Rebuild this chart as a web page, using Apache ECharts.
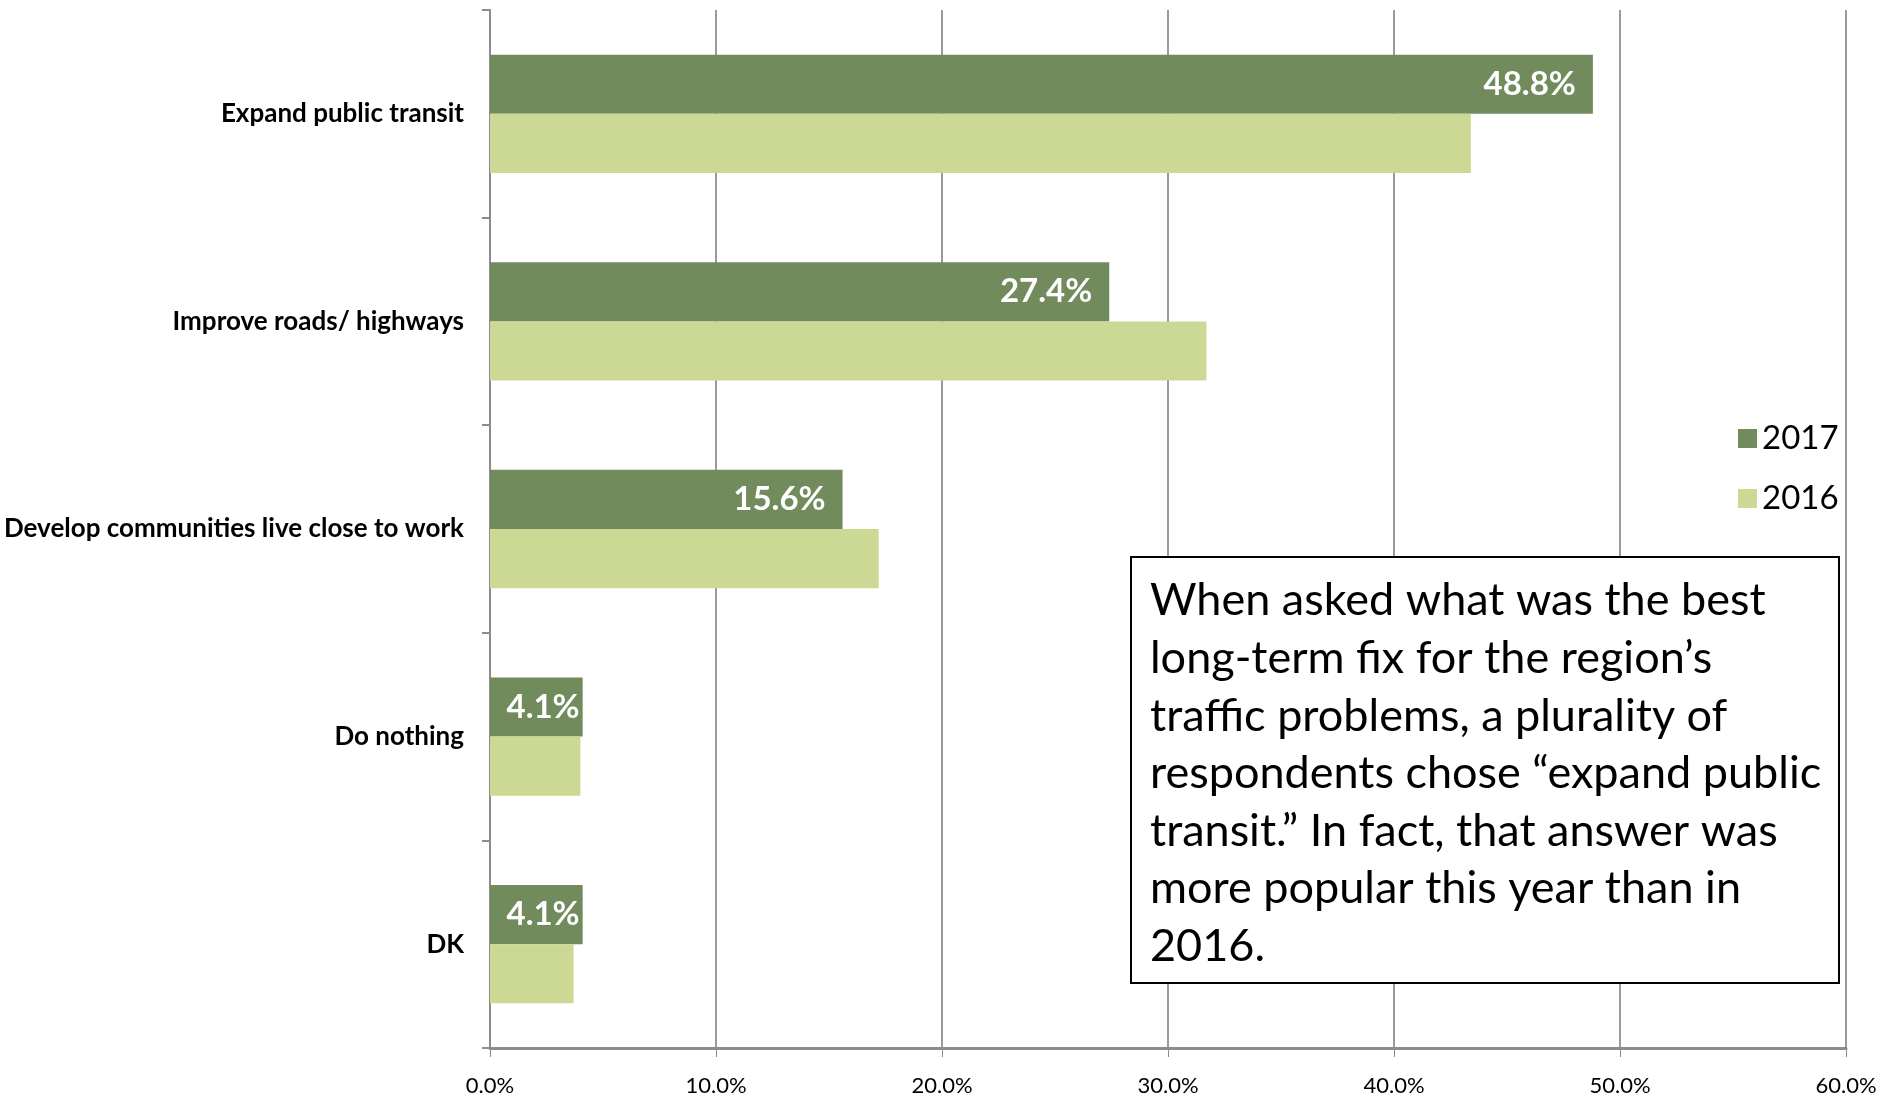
<!DOCTYPE html>
<html><head><meta charset="utf-8">
<script src="https://cdn.jsdelivr.net/npm/echarts@6/dist/echarts.min.js"></script>
<style>html,body{margin:0;padding:0;background:#fff}#c{width:1883px;height:1098px}</style>
</head><body><div id="c"></div>
<script>
const categories = ["Expand public transit","Improve roads/ highways","Develop communities live close to work","Do nothing","DK"];
const values2017 = [48.8, 27.4, 15.6, 4.1, 4.1];
const values2016 = [43.4, 31.7, 17.2, 4.0, 3.7];
const xTicks = [0,10,20,30,40,50,60];
const noteLines = ["When asked what was the best","long-term fix for the region\u2019s","traffic problems, a plurality of","respondents chose \u201cexpand public","transit.\u201d In fact, that answer was","more popular this year than in","2016."];
const FONT = 'Lato, "Open Sans", sans-serif';
const chart = echarts.init(document.getElementById('c'));
const data2017 = values2017.map(v => ({value:v, label:{distance: v < 10 ? 3 : 17}}));
chart.setOption({
  animation:false,
  grid:{left:490,right:37,top:10,bottom:50,containLabel:false},
  legend:{orient:'vertical',left:1733,top:417,itemWidth:19,itemHeight:19,itemGap:27,icon:'rect',
    textStyle:{fontFamily:FONT,fontSize:33,color:'#000'},
    data:['2017','2016']},
  xAxis:{type:'value',min:0,max:60,interval:10,
    axisLine:{show:true,lineStyle:{color:'#8c8c8c',width:3}},
    axisTick:{show:true,length:9,lineStyle:{color:'#8c8c8c'}},
    splitLine:{show:true,lineStyle:{color:'#9a9a9a',width:2}},
    axisLabel:{margin:27,fontFamily:FONT,fontSize:22,color:'#000',formatter:v=>v.toFixed(1)+'%'}},
  yAxis:{type:'category',data:categories,inverse:true,
    axisLine:{show:true,lineStyle:{color:'#8c8c8c',width:2}},
    axisTick:{show:true,length:8,lineStyle:{color:'#8c8c8c',width:2}},
    axisLabel:{margin:26,fontFamily:FONT,fontSize:26,fontWeight:'bold',color:'#000'}},
  series:[
    {name:'2017',type:'bar',data:data2017,barGap:'0%',barCategoryGap:'43%',
     itemStyle:{color:'#718b5d'},
     label:{show:true,position:'insideRight',distance:17,color:'#fff',fontFamily:FONT,fontWeight:'bold',fontSize:33,formatter:p=>p.value.toFixed(1)+'%'}},
    {name:'2016',type:'bar',data:values2016,barGap:'0%',barCategoryGap:'43%',
     itemStyle:{color:'#ccd995'}}
  ],
  graphic:[
    {type:'rect',left:1130,top:556,shape:{width:708,height:426},style:{fill:'#fff',stroke:'#000',lineWidth:2},z:100},
    {type:'text',left:1150,top:572,z:101,style:{text:noteLines.join('\n'),fontFamily:FONT,fontSize:45,lineHeight:57.6,fill:'#000'}}
  ]
});
</script></body></html>
